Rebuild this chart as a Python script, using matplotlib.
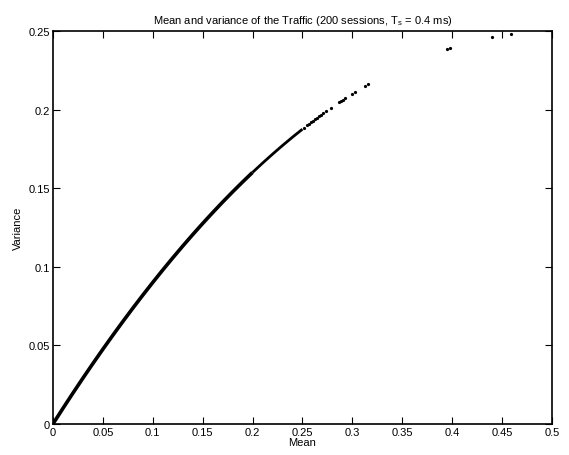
import matplotlib
matplotlib.use("Agg")
import matplotlib.pyplot as plt

plt.rcParams['font.family'] = ['Liberation Sans', 'DejaVu Sans']

# dense part of the cloud
mean_dense = [0.000, 0.010, 0.020, 0.030, 0.040, 0.050, 0.060, 0.070, 0.080,
              0.090, 0.100, 0.110, 0.120, 0.130, 0.140, 0.150, 0.160, 0.170,
              0.180, 0.190, 0.200]
var_dense = [0.0000, 0.0099, 0.0196, 0.0291, 0.0384, 0.0475, 0.0564, 0.0651,
             0.0736, 0.0819, 0.0900, 0.0979, 0.1056, 0.1131, 0.1204, 0.1275,
             0.1344, 0.1411, 0.1476, 0.1539, 0.1600]

# thinner stretch where the sessions start to spread out
mean_mid = [0.200, 0.210, 0.220, 0.230, 0.240, 0.250]
var_mid = [0.1600, 0.1659, 0.1716, 0.1771, 0.1824, 0.1875]

# sparse sessions at the upper end
mean_sparse = [0.252, 0.255, 0.257, 0.259, 0.261, 0.263, 0.265, 0.267, 0.269,
               0.271, 0.274, 0.279, 0.287, 0.289, 0.291, 0.293, 0.300, 0.303,
               0.313, 0.316, 0.395, 0.398, 0.440, 0.459]
var_sparse = [0.1885, 0.1900, 0.1910, 0.1919, 0.1929, 0.1938, 0.1948, 0.1957,
              0.1966, 0.1976, 0.1989, 0.2012, 0.2046, 0.2055, 0.2063, 0.2071,
              0.2100, 0.2112, 0.2150, 0.2161, 0.2388, 0.2392, 0.2460, 0.2480]

fig = plt.figure(figsize=(5.69, 4.56), dpi=100)
ax = fig.add_axes([0.093, 0.068, 0.877, 0.862])

ax.plot(mean_dense, var_dense, color='black', linewidth=2.6, solid_capstyle='butt')
ax.plot(mean_mid, var_mid, color='black', linewidth=2.0, solid_capstyle='butt')
ax.plot(mean_sparse, var_sparse, linestyle='none', marker='.', markersize=2.6,
        color='black')

ax.set_xlim(0, 0.5)
ax.set_ylim(0, 0.25)
ax.set_xticks([0, 0.05, 0.1, 0.15, 0.2, 0.25, 0.3, 0.35, 0.4, 0.45, 0.5])
ax.set_xticklabels(['0', '0.05', '0.1', '0.15', '0.2', '0.25', '0.3', '0.35',
                    '0.4', '0.45', '0.5'])
ax.set_yticks([0, 0.05, 0.1, 0.15, 0.2, 0.25])
ax.set_yticklabels(['0', '0.05', '0.1', '0.15', '0.2', '0.25'])
ax.tick_params(direction='in', top=True, right=True, length=5, width=0.8,
               labelsize=8, pad=2)
for s in ax.spines.values():
    s.set_linewidth(1.2)

ax.set_xlabel('Mean', fontsize=8, labelpad=0)
ax.set_ylabel('Variance', fontsize=8, labelpad=4)
ax.set_title(r'Mean and variance of the Traffic (200 sessions, T$_\mathregular{s}$ = 0.4 ms)',
             fontsize=8, pad=6)

fig.savefig('out.png', dpi=100)
